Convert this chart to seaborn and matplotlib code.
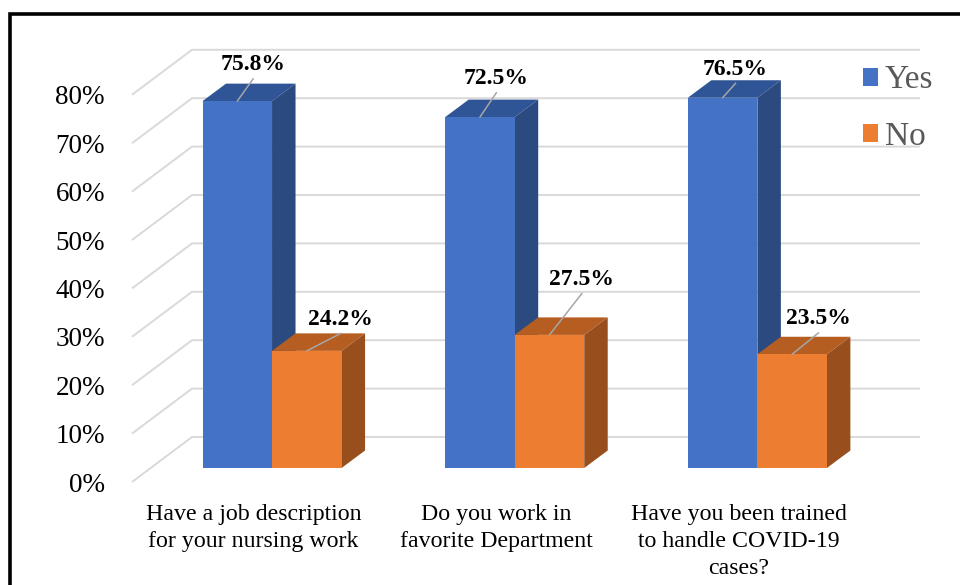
import matplotlib
matplotlib.use("Agg")
import matplotlib.pyplot as plt
import seaborn as sns
import pandas as pd
from matplotlib.transforms import ScaledTranslation
from matplotlib.patches import Polygon, Rectangle

# ---------------- data ----------------
categories = [
    "Have a job description\nfor your nursing work",
    "Do you work in\nfavorite Department",
    "Have you been trained\nto handle COVID-19\ncases?",
]
series = ["Yes", "No"]
yes_values = [75.8, 72.5, 76.5]
no_values = [24.2, 27.5, 23.5]
y_ticks = [0, 10, 20, 30, 40, 50, 60, 70, 80]
y_tick_labels = [f"{t}%" for t in y_ticks]

# ---------------- style ----------------
front_colors = ["#4472C4", "#ED7D31"]
top_colors = ["#2F5596", "#B65E22"]
side_colors = ["#2B4A7F", "#984F1D"]
grid_color = "#D9D9D9"
# label offsets (pixels, relative to top-front centre of each bar)
label_offsets = [[(16, 39), (16.5, 41), (13, 31)],
                 [(34, 34), (32.5, 58), (26.5, 38)]]

sns.set_theme(style="white")
plt.rcParams["font.family"] = ["Liberation Serif", "DejaVu Serif"]

W, H, DPI = 960, 585, 100
fig = plt.figure(figsize=(W / DPI, H / DPI), dpi=DPI)

# front plane of the 3D box (pixel coordinates of the reference)
L, R, B0, T80 = 132, 860, 482, 94.8
ax = fig.add_axes([L / W, (H - B0) / H, (R - L) / W, (B0 - T80) / H])

df = pd.DataFrame({
    "question": categories * 2,
    "answer": ["Yes"] * 3 + ["No"] * 3,
    "value": yes_values + no_values,
})
sns.barplot(data=df, x="question", y="value", hue="answer", hue_order=series,
            palette=front_colors, width=0.573, saturation=1, linewidth=0,
            ax=ax, legend=False)

ax.set_xlim(-0.5, 2.5)
ax.set_ylim(0, 80)
px_x = (R - L) / 3.0
px_y = (B0 - T80) / 80.0

# floor depth (front edge -> back wall), bar plane offset and bar depth
DEPTH_X, DEPTH_Y = 60, 45
BAR_OFF_X, BAR_OFF_Y = 18.7, 14
BAR_D_X, BAR_D_Y = 23.5, 17.5

off_bar = ax.transData + ScaledTranslation(BAR_OFF_X / DPI, BAR_OFF_Y / DPI, fig.dpi_scale_trans)

# gridlines: diagonal on the floor/side + horizontal on the back wall
bx, by = DEPTH_X / px_x, DEPTH_Y / px_y
for v in y_ticks:
    ax.plot([-0.5, -0.5 + bx, 2.5 + bx], [v, v + by, v + by], color=grid_color,
            lw=1.4, zorder=0.5, clip_on=False, solid_capstyle="butt")

ddx, ddy = BAR_D_X / px_x, BAR_D_Y / px_y
for i, cont in enumerate(ax.containers):
    zb = 2 + i * 2
    for j, bar in enumerate(cont):
        x0, w, h = bar.get_x(), bar.get_width(), bar.get_height()
        bar.set_transform(off_bar)
        bar.set_zorder(zb + 0.5)
        bar.set_clip_on(False)
        top = Polygon([(x0, h), (x0 + w, h), (x0 + w + ddx, h + ddy), (x0 + ddx, h + ddy)],
                      closed=True, fc=top_colors[i], lw=0, transform=off_bar,
                      zorder=zb, clip_on=False)
        side = Polygon([(x0 + w, 0), (x0 + w + ddx, ddy), (x0 + w + ddx, h + ddy), (x0 + w, h)],
                       closed=True, fc=side_colors[i], lw=0, transform=off_bar,
                       zorder=zb, clip_on=False)
        ax.add_patch(top)
        ax.add_patch(side)
        # data label with leader line
        xc = x0 + w / 2
        tdx, tdy = label_offsets[i][j]
        ax.plot([xc, xc + tdx / px_x], [h, h + (tdy - 16.5) / px_y], color="#A6A6A6",
                lw=1.1, transform=off_bar, zorder=10, clip_on=False)
        ax.text(xc + tdx / px_x, h + tdy / px_y, f"{h:.1f}%", transform=off_bar,
                ha="center", va="center_baseline", fontsize=17, fontweight="bold",
                color="black", zorder=11)

# axes cosmetics
for s in ax.spines.values():
    s.set_visible(False)
ax.set_xlabel("")
ax.set_ylabel("")
ax.set_yticks(y_ticks, y_tick_labels)
ax.tick_params(axis="y", length=0, pad=19.5, labelsize=19.5, labelcolor="black")
ax.set_xticks(range(len(categories)), categories)
ax.tick_params(axis="x", length=0, pad=16, labelsize=17.2, labelcolor="black")
for lab in ax.get_xticklabels():
    lab.set_linespacing(1.36)
ax.grid(False)
ax.set_facecolor("none")

# legend
handles = [Rectangle((0, 0), 1, 1, fc=c, lw=0) for c in front_colors]
fig.legend(handles, series, loc="upper left", bbox_to_anchor=(863 / W, 1 - 65 / H),
           frameon=False, fontsize=24, labelcolor="#595959", handlelength=0.45,
           handleheight=0.45, handletextpad=0.2, labelspacing=0.78, borderpad=0,
           borderaxespad=0)

# outer frame
fig.add_artist(Rectangle((10 / W, -0.1), 1.2, (H - 13.5) / H + 0.1, transform=fig.transFigure,
                         fill=False, ec="black", lw=2.6))

fig.savefig("out.png", dpi=DPI)
